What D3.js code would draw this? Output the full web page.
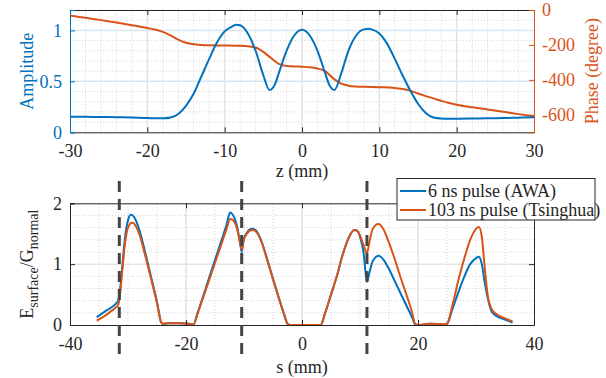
<!DOCTYPE html>
<html>
<head>
<meta charset="utf-8">
<script src="https://cdn.jsdelivr.net/npm/d3@7"></script>
<style>
  body { margin: 0; background: #fff; }
  svg { display: block; }
  svg text { font-family: 'Liberation Serif', 'Times New Roman', serif !important; }
</style>
</head>
<body>
<div id="chart"></div>
<script>
// ---- data ----

// top panel: on-axis field, z in mm
let zAmp = [
  [-30, 0.153], [-28, 0.152], [-26, 0.150], [-24, 0.148], [-22, 0.145], [-20, 0.140],
  [-19, 0.137], [-18, 0.137], [-17, 0.145], [-16, 0.18], [-15, 0.26], [-14, 0.38],
  [-13, 0.55], [-12, 0.72], [-11, 0.88], [-10, 0.99], [-9, 1.04], [-8.5, 1.055],
  [-8, 1.05], [-7, 0.97], [-6, 0.80], [-5, 0.56], [-4.2, 0.415], [-3.5, 0.47],
  [-3, 0.58], [-2, 0.80], [-1, 0.95], [0, 1.005], [1, 0.95], [2, 0.80], [3, 0.58],
  [3.5, 0.47], [4.2, 0.415], [5, 0.56], [6, 0.80], [7, 0.95], [8, 1.01], [8.6, 1.015],
  [9, 1.01], [10, 0.97], [11, 0.87], [12, 0.72], [13, 0.56], [14, 0.41], [15, 0.28],
  [16, 0.19], [17, 0.145], [18, 0.135], [19, 0.133], [20, 0.133], [22, 0.135],
  [24, 0.138], [26, 0.140], [28, 0.143], [30, 0.147]
];

let zPhase = [
  [-30, -32], [-28, -45], [-26, -58], [-24, -72], [-22, -87], [-20, -103], [-19, -112],
  [-18, -125], [-17, -145], [-16, -170], [-15, -187], [-14, -196], [-13, -200],
  [-12, -202], [-10, -203], [-8, -205], [-7, -208], [-6, -215], [-5, -240], [-4, -275],
  [-3, -308], [-2, -320], [-1, -323], [0, -325], [1, -328], [2, -335], [3, -350],
  [4, -390], [5, -420], [6, -433], [7, -438], [8, -440], [10, -442], [12, -446],
  [13, -452], [14, -462], [15, -478], [16, -493], [17, -506], [18, -520], [19, -532],
  [20, -542], [22, -557], [24, -569], [26, -582], [28, -596], [30, -609]
];

// bottom panel: surface field along the cell profile, s in mm
let awa = [
  [-35.4, 0.13], [-34, 0.22], [-33, 0.28], [-32.2, 0.34], [-31.7, 0.40], [-31.4, 0.55],
  [-31, 0.95], [-30.5, 1.45], [-30, 1.72], [-29.5, 1.81], [-29, 1.78], [-28, 1.55],
  [-27, 1.18], [-26, 0.78], [-25, 0.38], [-24.3, 0.05], [-24, 0.02], [-23, 0.03],
  [-21, 0.03], [-19.5, 0.02], [-18.7, 0.01], [-18, 0.2], [-16, 0.78], [-14, 1.36],
  [-13, 1.65], [-12.4, 1.85], [-12, 1.82], [-11.2, 1.62], [-10.6, 1.30], [-10.4, 1.20],
  [-10.1, 1.38], [-9.5, 1.52], [-8.6, 1.58], [-8, 1.56], [-7, 1.38], [-6, 1.08],
  [-5, 0.76], [-4, 0.45], [-3, 0.15], [-2.5, 0.02], [-2, 0], [3.2, 0], [4, 0.2],
  [5, 0.5], [6, 0.8], [7, 1.15], [8, 1.42], [9, 1.56], [9.5, 1.55], [10, 1.45],
  [10.6, 1.2], [11.2, 0.71], [11.6, 0.85], [12.2, 1.05], [13.2, 1.14], [14, 1.08],
  [15, 0.92], [16, 0.72], [17, 0.52], [18, 0.32], [19, 0.12], [19.5, 0.01], [20, 0],
  [22, 0.02], [24.5, 0.01], [25, 0.02], [26, 0.28], [27, 0.55], [28, 0.80], [29, 1.00],
  [30, 1.10], [30.5, 1.12], [31, 1.0], [31.5, 0.7], [32, 0.45], [32.7, 0.22],
  [33.5, 0.15], [35, 0.09], [36.3, 0.04]
];

let tsinghua = [
  [-35.4, 0.07], [-34, 0.15], [-33, 0.22], [-32.2, 0.28], [-31.7, 0.33], [-31.4, 0.48],
  [-31, 0.88], [-30.5, 1.35], [-30, 1.60], [-29.3, 1.68], [-29, 1.67], [-28, 1.48],
  [-27, 1.13], [-26, 0.75], [-25, 0.36], [-24.3, 0.05], [-24, 0.02], [-23, 0.03],
  [-21, 0.03], [-19.5, 0.02], [-18.7, 0.01], [-18, 0.19], [-16, 0.74], [-14, 1.30],
  [-13, 1.58], [-12.4, 1.74], [-12, 1.73], [-11.2, 1.58], [-10.6, 1.32], [-10.4, 1.24],
  [-10.1, 1.38], [-9.5, 1.50], [-8.6, 1.56], [-8, 1.54], [-7, 1.37], [-6, 1.07],
  [-5, 0.75], [-4, 0.44], [-3, 0.15], [-2.5, 0.02], [-2, 0], [3.2, 0], [4, 0.2],
  [5, 0.5], [6, 0.8], [7, 1.15], [8, 1.42], [9, 1.56], [9.5, 1.55], [10, 1.47],
  [10.6, 1.32], [11.2, 1.18], [11.6, 1.35], [12.2, 1.58], [13.2, 1.66], [14, 1.58],
  [15, 1.35], [16, 1.08], [17, 0.78], [18, 0.50], [19, 0.2], [19.5, 0.02], [20, 0],
  [22, 0.02], [24.5, 0.01], [25, 0.02], [26, 0.35], [27, 0.75], [28, 1.1], [29, 1.4],
  [30, 1.58], [30.5, 1.61], [31, 1.45], [31.5, 0.95], [32, 0.5], [32.7, 0.26],
  [33.5, 0.18], [35, 0.11], [36.3, 0.06]
];

// iris positions (dashed markers)
let irisS = [-31.5, -10.4, 11.2];

let zTicks = [-30, -20, -10, 0, 10, 20, 30];
let ampTicks = [0, 0.5, 1];
let phaseTicks = [0, -200, -400, -600];
let sTicks = [-40, -20, 0, 20, 40];
let eTicks = [0, 1, 2];
let legendNames = ["6 ns pulse (AWA)", "103 ns pulse (Tsinghua)"];

// ---- drawing ----
const blue = "#0072BD", orange = "#D95319", ink = "#262626";
const W = 606, H = 378;
const tickLen = 5;
const fmt = d => String(d);   // plain hyphen minus, like the original

const svg = d3.select("#chart").append("svg")
  .attr("width", W).attr("height", H);

// top panel scales
const topBox = { left: 70, right: 534, top: 10, bottom: 132.3 };
const xz = d3.scaleLinear().domain([-30, 30]).range([topBox.left, topBox.right]);
const ya = d3.scaleLinear().domain([0, 1.2]).range([topBox.bottom, topBox.top]);
const yp = d3.scaleLinear().domain([-700, 0]).range([topBox.bottom, topBox.top]);

// bottom panel scales
const botBox = { left: 70, right: 534, top: 203.3, bottom: 325 };
const xs = d3.scaleLinear().domain([-40, 40]).range([botBox.left, botBox.right]);
const ye = d3.scaleLinear().domain([0, 2]).range([botBox.bottom, botBox.top]);

function grid(g, x, y, xMajor, xMinorStep, yMajor, yMinorStep, yMajorColor) {
  const [x0, x1] = x.domain(), [y0, y1] = y.domain();
  const xMinor = d3.range(x0, x1 + 1e-9, xMinorStep).filter(v => !xMajor.includes(v));
  const yMinor = d3.range(y0, y1 + 1e-9, yMinorStep).map(v => +v.toFixed(3)).filter(v => !yMajor.includes(v));
  g.selectAll(".xmin").data(xMinor).join("line")
    .attr("x1", d => x(d)).attr("x2", d => x(d))
    .attr("y1", y.range()[0]).attr("y2", y.range()[1])
    .attr("stroke", "#d4d4d4").attr("stroke-dasharray", "1,2").attr("stroke-width", 1);
  g.selectAll(".ymin").data(yMinor).join("line")
    .attr("y1", d => y(d)).attr("y2", d => y(d))
    .attr("x1", x.range()[0]).attr("x2", x.range()[1])
    .attr("stroke", "#d4d4d4").attr("stroke-dasharray", "1,2").attr("stroke-width", 1);
  g.selectAll(".xmaj").data(xMajor.filter(v => v > x0 && v < x1)).join("line")
    .attr("x1", d => x(d)).attr("x2", d => x(d))
    .attr("y1", y.range()[0]).attr("y2", y.range()[1])
    .attr("stroke", "#e3e3e3").attr("stroke-width", 1.5);
  g.selectAll(".ymaj").data(yMajor.filter(v => v > y0 && v < y1)).join("line")
    .attr("y1", d => y(d)).attr("y2", d => y(d))
    .attr("x1", x.range()[0]).attr("x2", x.range()[1])
    .attr("stroke", yMajorColor).attr("stroke-width", 1.5);
}

// style an axis group the MATLAB way
function styleAxis(g, color) {
  g.attr("font-size", 18);
  g.select(".domain").attr("stroke", color);
  g.selectAll(".tick line").attr("stroke", color);
  g.selectAll(".tick text").attr("fill", color);
}

// ---------- top panel ----------
const gt = svg.append("g");
grid(gt.append("g"), xz, ya, zTicks, 2, ampTicks, 0.1, "#d8e6f2");

const lineA = d3.line().x(d => xz(d[0])).y(d => ya(d[1])).curve(d3.curveMonotoneX);
const lineP = d3.line().x(d => xz(d[0])).y(d => yp(d[1])).curve(d3.curveMonotoneX);

gt.append("path").datum(zPhase).attr("d", lineP)
  .attr("fill", "none").attr("stroke", orange).attr("stroke-width", 2);
gt.append("path").datum(zAmp).attr("d", lineA)
  .attr("fill", "none").attr("stroke", blue).attr("stroke-width", 2);

// axes (ticks inside)
gt.append("g").attr("transform", `translate(0,${topBox.bottom})`)
  .call(d3.axisBottom(xz).tickValues(zTicks).tickSize(-tickLen).tickPadding(12).tickFormat(fmt))
  .call(g => styleAxis(g, ink));
gt.append("g").attr("transform", `translate(0,${topBox.top})`)
  .call(d3.axisTop(xz).tickValues(zTicks).tickSize(-tickLen).tickFormat(""))
  .call(g => styleAxis(g, ink));
gt.append("g").attr("transform", `translate(${topBox.left},0)`)
  .call(d3.axisLeft(ya).tickValues(ampTicks).tickSize(-tickLen).tickPadding(8).tickFormat(fmt))
  .call(g => styleAxis(g, blue));
gt.append("g").attr("transform", `translate(${topBox.right},0)`)
  .call(d3.axisRight(yp).tickValues(phaseTicks).tickSize(-tickLen).tickPadding(8).tickFormat(fmt))
  .call(g => styleAxis(g, orange));

gt.append("text").attr("x", (topBox.left + topBox.right) / 2).attr("y", 177)
  .attr("text-anchor", "middle").attr("font-size", 18).attr("fill", ink).text("z (mm)");
gt.append("text").attr("transform", `translate(33,${(topBox.top + topBox.bottom) / 2}) rotate(-90)`)
  .attr("text-anchor", "middle").attr("font-size", 18).attr("fill", blue).text("Amplitude");
gt.append("text").attr("transform", `translate(598,${(topBox.top + topBox.bottom) / 2}) rotate(-90)`)
  .attr("text-anchor", "middle").attr("font-size", 18).attr("fill", orange).text("Phase (degree)");

// ---------- bottom panel ----------
const gb = svg.append("g");
grid(gb.append("g"), xs, ye, sTicks, 5, eTicks, 0.2, "#e3e3e3");

const lineS = d3.line().x(d => xs(d[0])).y(d => ye(d[1])).curve(d3.curveMonotoneX);
gb.append("path").datum(awa).attr("d", lineS)
  .attr("fill", "none").attr("stroke", blue).attr("stroke-width", 2);
gb.append("path").datum(tsinghua).attr("d", lineS)
  .attr("fill", "none").attr("stroke", orange).attr("stroke-width", 2);

gb.append("g").attr("transform", `translate(0,${botBox.bottom})`)
  .call(d3.axisBottom(xs).tickValues(sTicks).tickSize(-tickLen).tickPadding(12).tickFormat(fmt))
  .call(g => styleAxis(g, ink));
gb.append("g").attr("transform", `translate(0,${botBox.top})`)
  .call(d3.axisTop(xs).tickValues(sTicks).tickSize(-tickLen).tickFormat(""))
  .call(g => styleAxis(g, ink));
gb.append("g").attr("transform", `translate(${botBox.left},0)`)
  .call(d3.axisLeft(ye).tickValues(eTicks).tickSize(-tickLen).tickPadding(8).tickFormat(fmt))
  .call(g => styleAxis(g, ink));
gb.append("g").attr("transform", `translate(${botBox.right},0)`)
  .call(d3.axisRight(ye).tickValues(eTicks).tickSize(-tickLen).tickFormat(""))
  .call(g => styleAxis(g, ink));

// dashed iris markers, running past the axes
gb.selectAll(".iris").data(irisS).join("line")
  .attr("x1", d => xs(d)).attr("x2", d => xs(d))
  .attr("y1", 181).attr("y2", 360)
  .attr("stroke", "#444").attr("stroke-width", 3).attr("stroke-dasharray", "11,7");

gb.append("text").attr("x", (botBox.left + botBox.right) / 2).attr("y", 373)
  .attr("text-anchor", "middle").attr("font-size", 18).attr("fill", ink).text("s (mm)");

const yl = gb.append("text")
  .attr("transform", `translate(33,${(botBox.top + botBox.bottom) / 2}) rotate(-90)`)
  .attr("text-anchor", "middle").attr("font-size", 18).attr("fill", ink);
yl.append("tspan").text("E");
yl.append("tspan").attr("font-size", 14).attr("dy", 5).text("surface");
yl.append("tspan").attr("dy", -5).text("/G");
yl.append("tspan").attr("font-size", 14).attr("dy", 5).text("normal");

// legend
const leg = svg.append("g").attr("transform", "translate(397,178.5)");
leg.append("rect").attr("width", 198).attr("height", 41.5)
  .attr("fill", "#fff").attr("stroke", ink).attr("stroke-width", 1);
legendNames.forEach((name, i) => {
  const y = 12.5 + i * 19;
  leg.append("line").attr("x1", 3).attr("x2", 29).attr("y1", y).attr("y2", y)
    .attr("stroke", i === 0 ? blue : orange).attr("stroke-width", 2);
  leg.append("text").attr("x", 31).attr("y", y + 6)
    .attr("font-size", 18).attr("fill", ink).text(name);
});
</script>
</body>
</html>
